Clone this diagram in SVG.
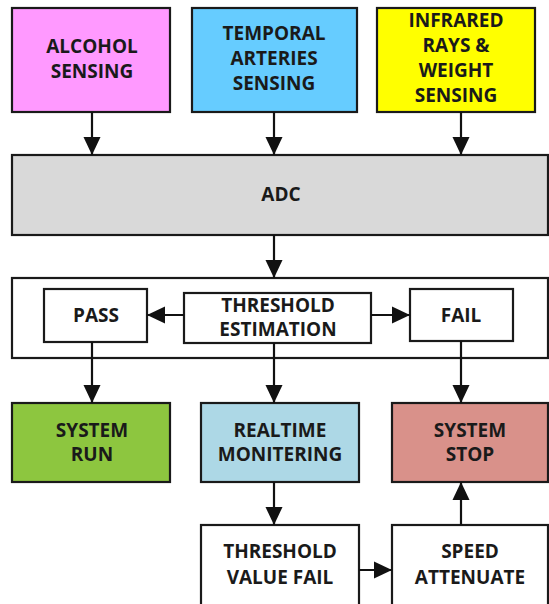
<svg xmlns="http://www.w3.org/2000/svg" width="549" height="604" viewBox="0 0 549 604">
<defs>
<marker id="ah" markerUnits="userSpaceOnUse" markerWidth="18" markerHeight="18" viewBox="0 0 19 18" refX="19" refY="9" orient="auto">
<path d="M0,0 L19,9 L0,18 Z" fill="#111"/>
</marker>
</defs>
<style>
rect{stroke:#1a1a1a;stroke-width:2.2}
text{font-family:"Open Sans","Noto Sans","DejaVu Sans",sans-serif;font-weight:bold;font-size:19px;fill:#1a1a1a;text-anchor:middle}
.c line{stroke:#111;stroke-width:2.2;marker-end:url(#ah)}
</style>
<rect x="0" y="0" width="549" height="604" fill="#fff" style="stroke:none"/>
<g id="alcohol"><rect x="12" y="8" width="158" height="104" fill="#FF99FF"/><text x="92" y="53">ALCOHOL</text><text x="92" y="78">SENSING</text></g>
<g id="temporal"><rect x="192" y="8" width="165" height="104" fill="#66CCFF"/><text x="274" y="40">TEMPORAL</text><text x="274" y="65">ARTERIES</text><text x="274" y="90">SENSING</text></g>
<g id="infrared"><rect x="377" y="8" width="158" height="104" fill="#FFFF00"/><text x="456" y="27">INFRARED</text><text x="456" y="52">RAYS &amp;</text><text x="456" y="77">WEIGHT</text><text x="456" y="102">SENSING</text></g>
<g id="adc"><rect x="12" y="155" width="536" height="80" fill="#D9D9D9"/><text x="281" y="201">ADC</text></g>
<g id="threshold-group"><rect x="12" y="278" width="536" height="80" fill="#fff"/></g>
<g id="pass"><rect x="44" y="289" width="103" height="53" fill="#fff"/><text x="96" y="322">PASS</text></g>
<g id="estimation"><rect x="184" y="293" width="187" height="50" fill="#fff"/><text x="278" y="312">THRESHOLD</text><text x="278" y="336">ESTIMATION</text></g>
<g id="fail"><rect x="410" y="289" width="103" height="52" fill="#fff"/><text x="461" y="322">FAIL</text></g>
<g id="run"><rect x="12" y="403" width="158" height="79" fill="#8DC63F"/><text x="92" y="437">SYSTEM</text><text x="92" y="461">RUN</text></g>
<g id="realtime"><rect x="201" y="403" width="158" height="79" fill="#ADD8E6"/><text x="280" y="437">REALTIME</text><text x="280" y="461">MONITERING</text></g>
<g id="stop"><rect x="392" y="403" width="156" height="79" fill="#D9918A"/><text x="470" y="437">SYSTEM</text><text x="470" y="461">STOP</text></g>
<g id="tvfail"><rect x="201" y="525" width="158" height="82" fill="#fff"/><text x="280" y="558">THRESHOLD</text><text x="280" y="584">VALUE FAIL</text></g>
<g id="speed"><rect x="392" y="525" width="156" height="82" fill="#fff"/><text x="470" y="558">SPEED</text><text x="470" y="584">ATTENUATE</text></g>
<g class="c" id="connectors">
<line x1="92" y1="112" x2="92" y2="155"/>
<line x1="274" y1="112" x2="274" y2="155"/>
<line x1="461" y1="112" x2="461" y2="155"/>
<line x1="274" y1="235" x2="274" y2="278"/>
<line x1="184" y1="315" x2="147" y2="315"/>
<line x1="371" y1="315" x2="410" y2="315"/>
<line x1="92" y1="342" x2="92" y2="403"/>
<line x1="274" y1="343" x2="274" y2="403"/>
<line x1="461" y1="341" x2="461" y2="403"/>
<line x1="274" y1="482" x2="274" y2="525"/>
<line x1="359" y1="570" x2="392" y2="570"/>
<line x1="461" y1="525" x2="461" y2="482"/>
</g>
</svg>
